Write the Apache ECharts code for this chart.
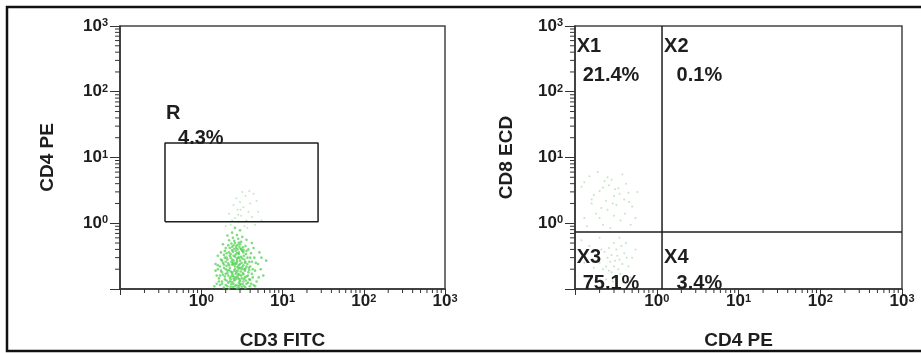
<!DOCTYPE html>
<html>
<head>
<meta charset="utf-8">
<script src="https://cdn.jsdelivr.net/npm/echarts@6/dist/echarts.min.js"></script>
<style>
  html, body { margin: 0; padding: 0; background: #fff; }
  #chart { width: 921px; height: 353px; }
</style>
</head>
<body>
<div id="chart"></div>
<script>
// axis range (log10)
const axisMin = 0.1;
const axisMax = 1000;

// left plot: CD3 FITC vs CD4 PE
const leftCells = [
  [2.1,0.11],[2.5,0.12],[2.9,0.105],[3.3,0.13],[1.8,0.12],[2.3,0.14],[2.7,0.15],[3.1,0.16],[3.6,0.12],[2.0,0.17],
  [2.4,0.18],[2.8,0.19],[3.4,0.2],[1.9,0.21],[2.2,0.23],[2.6,0.22],[3.0,0.24],[3.8,0.18],[1.7,0.16],[2.35,0.26],
  [2.75,0.27],[3.2,0.29],[2.05,0.3],[2.5,0.32],[2.9,0.34],[3.5,0.26],[1.85,0.25],[2.2,0.36],[2.65,0.38],[3.1,0.4],
  [2.4,0.44],[2.8,0.47],[2.0,0.42],[3.3,0.36],[4.0,0.22],[4.3,0.15],[1.6,0.2],[1.75,0.28],[2.15,0.125],[2.55,0.135],
  [2.95,0.14],[3.45,0.15],[3.9,0.14],[2.3,0.108],[2.7,0.115],[3.05,0.12],[1.95,0.14],[2.45,0.16],[2.85,0.17],[3.25,0.175],
  [2.1,0.19],[2.6,0.2],[3.0,0.21],[3.6,0.22],[1.8,0.18],[2.25,0.21],[2.7,0.24],[3.15,0.25],[3.7,0.3],[2.0,0.26],
  [2.4,0.28],[2.85,0.3],[3.35,0.32],[1.9,0.33],[2.3,0.34],[2.75,0.35],[3.2,0.38],[2.55,0.41],[2.15,0.46],[2.95,0.44],
  [2.6,0.5],[3.1,0.52],[2.2,0.55],[2.45,0.6],[2.85,0.58],[3.5,0.45],[4.5,0.3],[4.1,0.35],[1.65,0.13],[1.55,0.16],
  [2.0,0.115],[2.6,0.11],[3.4,0.11],[4.1,0.12],[3.75,0.16],[4.6,0.19],[5.0,0.24],[5.4,0.2],[4.8,0.13],[1.5,0.24],
  [2.35,0.155],[2.65,0.17],[3.05,0.185],[2.2,0.195],[2.9,0.205],[3.3,0.23],[2.5,0.235],[2.05,0.225],[1.7,0.22],[3.9,0.26],
  [2.75,0.255],[2.3,0.3],[2.6,0.31],[3.0,0.27],[3.55,0.34],[1.95,0.38],[2.45,0.37],[2.8,0.4],[3.25,0.43],[2.35,0.49],
  [2.7,0.45],[3.0,0.48],[2.55,0.54],[1.85,0.48],[3.8,0.4],[4.4,0.42],[2.1,0.65],[2.75,0.66],[3.2,0.62],[2.4,0.72],
  [3.0,0.78],[2.6,0.85],[5.8,0.16],[6.3,0.27],[5.2,0.36],[1.45,0.11],[1.6,0.32],[4.2,0.5],[3.6,0.56],[2.9,0.125],
  [2.25,0.13],[3.55,0.135],[2.4,0.235],[2.85,0.145],[3.45,0.19],[2.15,0.16],[2.95,0.3],[2.45,0.25],[3.7,0.24],[1.75,0.36],
  [1.9,0.105],[2.2,0.1],[2.45,0.107],[2.75,0.102],[3.15,0.108],[3.5,0.104],[3.95,0.11],[1.7,0.115],[2.35,0.118],[2.85,0.112],
  [3.25,0.118],[3.75,0.125],[4.4,0.115],[1.8,0.13],[2.05,0.135],[2.4,0.128],[2.65,0.14],[3.0,0.132],[3.35,0.142],[4.0,0.138],
  [1.65,0.145],[1.95,0.155],[2.25,0.148],[2.55,0.152],[2.8,0.158],[3.15,0.145],[3.6,0.155],[4.2,0.17],[1.85,0.165],[2.1,0.175],
  [2.4,0.17],[2.7,0.182],[2.95,0.165],[3.3,0.168],[3.9,0.195],[1.75,0.19],[2.0,0.2],[2.3,0.185],[2.55,0.19],[2.8,0.215],
  [3.15,0.2],[3.5,0.205],[1.6,0.23],[1.9,0.235],[2.15,0.245],[2.6,0.245],[2.9,0.23],[3.2,0.215],[3.45,0.25],[4.2,0.26],
  [1.8,0.27],[2.1,0.28],[2.5,0.27],[2.75,0.29],[3.1,0.31],[3.4,0.28],[4.0,0.3],[1.95,0.3],[2.25,0.32],[2.65,0.335],
  [2.9,0.36],[3.3,0.39],[2.05,0.35],[2.4,0.39],[2.7,0.42],[3.05,0.41],[3.6,0.38],[2.25,0.42],[2.5,0.46],[2.9,0.51],
  [4.7,0.25],[5.1,0.15],[4.3,0.2],[5.5,0.3],[1.55,0.12],[1.5,0.19],[4.6,0.11],[3.85,0.21],[3.0,0.115],[2.5,0.143]
];
// sparse upper tail of the left population
const leftTail = [
  [2.3,0.95],[2.9,1.05],[3.4,0.9],[2.6,1.2],[3.1,1.3],[2.2,1.4],[3.6,1.1],[2.8,1.6],[3.3,1.75],[4.2,1.25],
  [2.5,1.9],[3.0,2.1],[3.8,1.5],[4.6,0.95],[2.7,2.4],[3.5,2.6],[3.2,3.0],[4.0,2.0],[2.4,1.1],[5.0,1.5],
  [3.7,0.85],[2.0,0.9],[4.4,2.8],[2.85,1.35],[5.5,1.1],[3.9,3.1],[3.05,1.6],[4.8,2.2]
];

// right plot: CD4 PE vs CD8 ECD
const rightCells = [
  [0.13,1.2],[0.16,2.0],[0.2,3.1],[0.25,1.6],[0.3,2.6],[0.36,1.1],[0.42,4.0],[0.15,5.2],[0.22,0.95],[0.28,4.6],
  [0.5,1.8],[0.18,1.4],[0.34,3.4],[0.24,2.2],[0.45,2.9],[0.12,3.6],[0.27,0.85],[0.55,1.2],[0.19,6.0],[0.38,5.5],
  [0.32,1.9],[0.14,0.9],[0.21,1.7],[0.4,2.3],[0.26,3.8],[0.58,3.0],[0.17,2.7],[0.3,1.3],[0.48,0.95],[0.23,4.4],
  [0.2,0.25],[0.25,0.3],[0.3,0.22],[0.35,0.28],[0.28,0.18],[0.22,0.2],[0.4,0.35],[0.32,0.4],[0.18,0.33],[0.26,0.42],
  [0.15,0.45],[0.45,0.22],[0.36,0.17],[0.24,0.14],[0.5,0.3],[0.3,0.5],[0.13,0.25],[0.42,0.5],[0.2,0.6],[0.27,0.26],
  [0.33,0.32],[0.38,0.24],[0.23,0.37],[0.55,0.4],[0.16,0.16],[0.29,0.13],[0.48,0.15],[0.21,0.12],[0.35,0.6],[0.12,0.55],
  [0.19,0.28],[0.24,0.22],[0.28,0.33],[0.31,0.27],[0.34,0.2],[0.26,0.19],[0.21,0.4],[0.37,0.45],[0.43,0.3],[0.17,0.21],
  [0.16,2.3],[0.22,3.5],[0.29,2.0],[0.35,2.8],[0.2,1.2],[0.13,4.2],[0.41,1.4],[0.25,5.0],[0.31,3.3],[0.46,2.1]
];

// gate R corners (x, y)
const gateR = [[0.358, 1.05], [27.4, 1.05], [27.4, 16.6], [0.358, 16.6], [0.358, 1.05]];
// quadrant cut points for right plot
const quadX = 1.16;
const quadY = 0.735;

const leftLabels = [
  { name: 'R', value: [0.368, 46.7] },
  { name: '4.3%', value: [0.518, 19.8] }
];
const rightLabels = [
  { name: 'X1', value: [0.105, 480] },
  { name: '21.4%', value: [0.124, 175] },
  { name: 'X2', value: [1.23, 480] },
  { name: '0.1%', value: [1.75, 175] },
  { name: 'X3', value: [0.105, 0.301] },
  { name: '75.1%', value: [0.124, 0.123] },
  { name: 'X4', value: [1.23, 0.301] },
  { name: '3.4%', value: [1.75, 0.123] }
];

const axisNames = { leftX: 'CD3 FITC', leftY: 'CD4 PE', rightX: 'CD4 PE', rightY: 'CD8 ECD' };

const minorTicks = [];
for (let e = -1; e < 3; e++) {
  for (let d = 2; d <= 9; d++) minorTicks.push([d * Math.pow(10, e), d * Math.pow(10, e)]);
}

const font = 'Liberation Sans, Arial, sans-serif';
const ink = '#1e1e1e';

const powLabel = (v) => {
  const e = Math.round(Math.log10(v));
  if (e < 0) return '';
  return '{b|10}{s|' + e + '}';
};

const tickRich = {
  b: { fontSize: 17, fontWeight: 'bold', color: ink, fontFamily: font },
  s: { fontSize: 11, fontWeight: 'bold', color: ink, fontFamily: font, verticalAlign: 'top' }
};

const makeX = (gridIndex, name) => ({
  type: 'log', logBase: 10, gridIndex, min: axisMin, max: axisMax,
  name, nameLocation: 'middle', nameGap: 42,
  nameTextStyle: { fontSize: 19, fontWeight: 'bold', color: ink, fontFamily: font },
  axisLine: { lineStyle: { color: '#333', width: 1.5 } },
  axisTick: { length: 6, lineStyle: { color: '#333', width: 1 } },
  axisLabel: { formatter: powLabel, rich: tickRich, margin: 4 },
  splitLine: { show: false }
});

const makeY = (gridIndex, name, gap) => ({
  type: 'log', logBase: 10, gridIndex, min: axisMin, max: axisMax,
  name, nameLocation: 'middle', nameGap: gap,
  nameTextStyle: { fontSize: 19, fontWeight: 'bold', color: ink, fontFamily: font },
  axisLine: { lineStyle: { color: '#333', width: 1.5 } },
  axisTick: { length: 10, lineStyle: { color: '#333', width: 1 } },
  axisLabel: { formatter: powLabel, rich: tickRich, margin: 12 },
  splitLine: { show: false }
});

const renderMinorTick = (params, api) => {
  const v = api.value(0);
  const bx = api.coord([v, axisMin]);
  const ly = api.coord([axisMin, v]);
  const st = { stroke: '#333', lineWidth: 1 };
  return {
    type: 'group',
    children: [
      { type: 'line', shape: { x1: bx[0], y1: bx[1], x2: bx[0], y2: bx[1] + 4 }, style: st },
      { type: 'line', shape: { x1: ly[0], y1: ly[1], x2: ly[0] - 5, y2: ly[1] }, style: st }
    ]
  };
};

const labelSeries = (idx, data) => ({
  type: 'scatter', xAxisIndex: idx, yAxisIndex: idx, symbolSize: 0, silent: true,
  itemStyle: { opacity: 1 },
  data,
  label: {
    show: true, position: 'right', distance: 0, formatter: '{b}',
    fontSize: 20, fontWeight: 'bold', color: ink, fontFamily: font, opacity: 1
  }
});

const chart = echarts.init(document.getElementById('chart'));
chart.setOption({
  animation: false,
  backgroundColor: '#fff',
  grid: [
    { left: 120, top: 26, width: 325, height: 263, show: true, borderColor: '#444', borderWidth: 1.5, outerBoundsMode: 'none' },
    { left: 575, top: 26, width: 327, height: 263, show: true, borderColor: '#444', borderWidth: 1.5, outerBoundsMode: 'none' }
  ],
  xAxis: [makeX(0, axisNames.leftX), makeX(1, axisNames.rightX)],
  yAxis: [makeY(0, axisNames.leftY, 63), makeY(1, axisNames.rightY, 59)],
  graphic: [{
    type: 'rect', shape: { x: 7, y: 7, width: 940, height: 344 },
    style: { fill: 'none', stroke: '#111', lineWidth: 2.5 }, silent: true
  }],
  series: [
    {
      type: 'scatter', xAxisIndex: 0, yAxisIndex: 0, symbolSize: 2.6, silent: true,
      itemStyle: { color: 'rgb(70,205,70)', opacity: 0.7 }, data: leftCells
    },
    {
      type: 'scatter', xAxisIndex: 0, yAxisIndex: 0, symbolSize: 2, silent: true,
      itemStyle: { color: 'rgb(150,220,150)', opacity: 0.6 }, data: leftTail
    },
    {
      type: 'scatter', xAxisIndex: 1, yAxisIndex: 1, symbolSize: 2, silent: true,
      itemStyle: { color: 'rgb(150,215,150)', opacity: 0.6 }, data: rightCells
    },
    {
      type: 'line', xAxisIndex: 0, yAxisIndex: 0, symbol: 'none', silent: true,
      lineStyle: { color: ink, width: 1.5 }, data: gateR
    },
    {
      type: 'line', xAxisIndex: 1, yAxisIndex: 1, symbol: 'none', silent: true,
      lineStyle: { color: ink, width: 1.5 }, data: [[quadX, axisMin], [quadX, axisMax]]
    },
    {
      type: 'line', xAxisIndex: 1, yAxisIndex: 1, symbol: 'none', silent: true,
      lineStyle: { color: ink, width: 1.5 }, data: [[axisMin, quadY], [axisMax, quadY]]
    },
    labelSeries(0, leftLabels),
    labelSeries(1, rightLabels),
    { type: 'custom', xAxisIndex: 0, yAxisIndex: 0, clip: false, silent: true, renderItem: renderMinorTick, data: minorTicks },
    { type: 'custom', xAxisIndex: 1, yAxisIndex: 1, clip: false, silent: true, renderItem: renderMinorTick, data: minorTicks }
  ]
});
</script>
</body>
</html>
